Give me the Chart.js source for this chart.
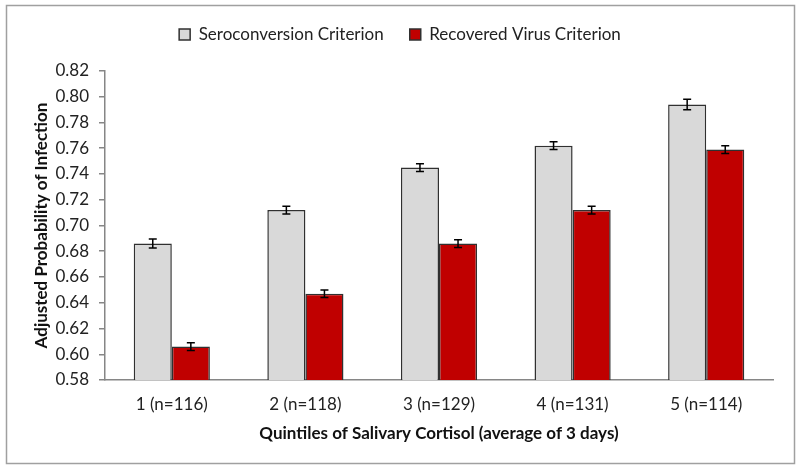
<!DOCTYPE html>
<html><head><meta charset="utf-8">
<script src="https://cdn.jsdelivr.net/npm/chart.js@4"></script>
<style>html,body{margin:0;padding:0;background:#fff}#wrap{width:800px;height:471px}</style>
</head><body><div id="wrap"><canvas id="c" width="800" height="471"></canvas></div>
<script>
const categories = ["1 (n=116)", "2 (n=118)", "3 (n=129)", "4 (n=131)", "5 (n=114)"];
const seroValues = [0.686, 0.712, 0.745, 0.762, 0.794];
const seroErrors = [0.0035, 0.003, 0.003, 0.003, 0.004];
const virusValues = [0.606, 0.647, 0.686, 0.712, 0.759];
const virusErrors = [0.003, 0.003, 0.003, 0.003, 0.003];
const seriesNames = ["Seroconversion Criterion", "Recovered Virus Criterion"];
const yTicks = [0.58,0.60,0.62,0.64,0.66,0.68,0.70,0.72,0.74,0.76,0.78,0.80,0.82];
const errorArrays = [seroErrors, virusErrors];
const FONT = "Lato, 'Open Sans', sans-serif";

const borderPlugin = {
  id: 'border',
  afterInit(chart) {
    const lg = chart.legend;
    if (lg && !lg._patched) {
      const orig = lg.fit;
      lg.fit = function() { orig.call(this); this.height += 18; };
      lg._patched = true;
    }
  },
  beforeDraw(chart) {
    const ctx = chart.ctx;
    ctx.save();
    ctx.fillStyle = '#fff';
    ctx.fillRect(0,0,chart.width,chart.height);
    ctx.strokeStyle = '#a0a0a0';
    ctx.lineWidth = 1.5;
    ctx.strokeRect(6.5, 5.5, 788, 458);
    ctx.restore();
  }
};
const errPlugin = {
  id: 'errbars',
  afterDatasetsDraw(chart) {
    const ctx = chart.ctx, ys = chart.scales.y;
    ctx.save();
    ctx.strokeStyle = '#000';
    ctx.lineWidth = 1.5;
    chart.data.datasets.forEach((ds, di) => {
      const meta = chart.getDatasetMeta(di);
      meta.data.forEach((el, i) => {
        const v = ds.data[i], e = errorArrays[di][i];
        const y1 = ys.getPixelForValue(v + e), y2 = ys.getPixelForValue(v - e);
        const x = el.x;
        ctx.beginPath();
        ctx.moveTo(x, y1); ctx.lineTo(x, y2);
        ctx.moveTo(x - 4, y1); ctx.lineTo(x + 4, y1);
        ctx.moveTo(x - 4, y2); ctx.lineTo(x + 4, y2);
        ctx.stroke();
      });
    });
    ctx.restore();
  }
};

new Chart(document.getElementById('c'), {
  type: 'bar',
  data: {
    labels: categories,
    datasets: [
      { label: seriesNames[0], data: seroValues, backgroundColor: '#d9d9d9', borderColor: '#303030', borderWidth: 1.5, borderSkipped: false, barPercentage: 1.0, categoryPercentage: 0.57 },
      { label: seriesNames[1], data: virusValues, backgroundColor: '#c00000', borderColor: '#303030', borderWidth: 1.5, borderSkipped: false, barPercentage: 1.0, categoryPercentage: 0.57 }
    ]
  },
  options: {
    responsive: false,
    animation: false,
    devicePixelRatio: 1,
    layout: { padding: { left: 27, right: 27, top: 0, bottom: 23 } },
    plugins: {
      legend: {
        position: 'top',
        labels: { font: { family: FONT, size: 17 }, color: '#222', boxWidth: 11, boxHeight: 11, padding: 26, useBorderRadius: false },
      },
      tooltip: { enabled: false }
    },
    scales: {
      x: {
        grid: { display: false, drawTicks: false },
        border: { color: '#868686', width: 1.5 },
        ticks: { font: { family: FONT, size: 17 }, color: '#222', padding: 14 },
        title: { display: true, text: 'Quintiles of Salivary Cortisol (average of 3 days)', font: { family: FONT, size: 17, weight: 'bold' }, color: '#111', padding: { top: 3 } },
        afterFit(s) { s.height = 68; }
      },
      y: {
        min: 0.58, max: 0.82,
        afterBuildTicks(s) { s.ticks = yTicks.map(v => ({ value: v })); },
        grid: { display: true, drawOnChartArea: false, drawTicks: true, tickLength: 6, color: '#868686', lineWidth: 1.5 },
        border: { color: '#868686', width: 1.5 },
        ticks: { font: { family: FONT, size: 17 }, color: '#222', padding: 10, callback: v => Number(v).toFixed(2) },
        title: { display: true, text: 'Adjusted Probability of Infection', font: { family: FONT, size: 17, weight: 'bold' }, color: '#111' },
        afterFit(s) { s.width = 78; }
      }
    }
  },
  plugins: [borderPlugin, errPlugin]
});
</script></body></html>
